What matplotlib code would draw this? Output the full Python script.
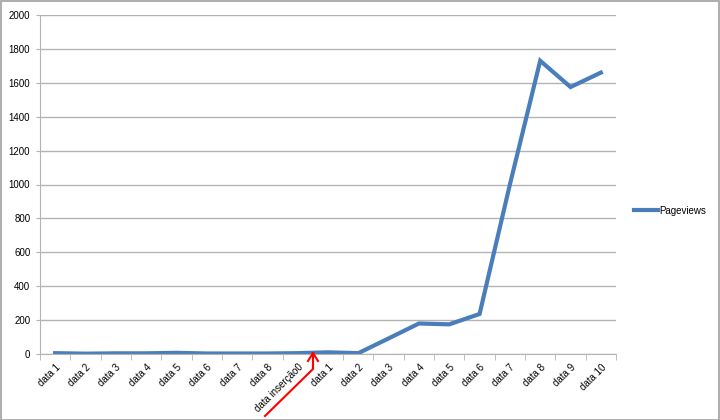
import matplotlib
matplotlib.use("Agg")
import matplotlib.pyplot as plt
from matplotlib.lines import Line2D
from matplotlib.patches import Rectangle
import numpy as np

categories = ["data 1", "data 2", "data 3", "data 4", "data 5", "data 6", "data 7", "data 8",
              "data inserção0", "data 1", "data 2", "data 3", "data 4", "data 5", "data 6",
              "data 7", "data 8", "data 9", "data 10"]
pageviews = [5, 2, 4, 4, 7, 3, 3, 3, 5, 10, 5, 92, 180, 175, 236, 1000, 1730, 1575, 1660]
yticks = [0, 200, 400, 600, 800, 1000, 1200, 1400, 1600, 1800, 2000]

W, H = 720, 420
fig = plt.figure(figsize=(W / 100, H / 100), dpi=100)
plt.rcParams['font.family'] = ['Liberation Sans', 'DejaVu Sans']

left, right, bottom, top = 40, 616, 354, 15
ax = fig.add_axes([left / W, 1 - bottom / H, (right - left) / W, (bottom - top) / H])

x = np.arange(len(categories))
ax.plot(x, pageviews, color="#4a7ebb", lw=3, solid_joinstyle="miter", label="Pageviews")
ax.set_xlim(-0.5, len(categories) - 0.5)
ax.set_ylim(0, 2000)
ax.set_yticks(yticks)
ax.set_yticklabels([str(v) for v in yticks], fontsize=7)
ax.yaxis.grid(True, color="#b3b3b3", lw=1)
ax.set_axisbelow(True)
for s in ["top", "right"]:
    ax.spines[s].set_visible(False)
for s in ["left", "bottom"]:
    ax.spines[s].set_color("#b3b3b3")
ax.tick_params(axis="y", length=3, color="#b3b3b3", pad=4)
ax.set_xticks(np.arange(len(categories) + 1) - 0.5, minor=True)
ax.set_xticks(x)
ax.set_xticklabels(categories, rotation=45, ha="right", rotation_mode="anchor", fontsize=7)
ax.tick_params(axis="x", which="major", length=0, pad=6)
ax.tick_params(axis="x", which="minor", length=4, color="#b3b3b3")

# legend
fig.add_artist(Line2D([634 / W, 658 / W], [1 - 210 / H, 1 - 210 / H], color="#4a7ebb", lw=3))
fig.text(659 / W, 1 - 211 / H, "Pageviews", fontsize=7, va="center", ha="left")

# red arrow overlay
fig.add_artist(Line2D([265 / W, 313 / W, 313 / W], [1 - 416 / H, 1 - 369 / H, 1 - 353 / H], color="red", lw=1.5))
fig.add_artist(Line2D([308 / W, 313 / W, 318 / W], [1 - 361 / H, 1 - 353 / H, 1 - 361 / H], color="red", lw=1.5))

# outer border
fig.add_artist(Rectangle((0.5 / W, 0.5 / H), (W - 1.5) / W, (H - 1.5) / H, fill=False, edgecolor="#a0a0a0", lw=1.2, transform=fig.transFigure))

fig.savefig("out.png", dpi=100)
